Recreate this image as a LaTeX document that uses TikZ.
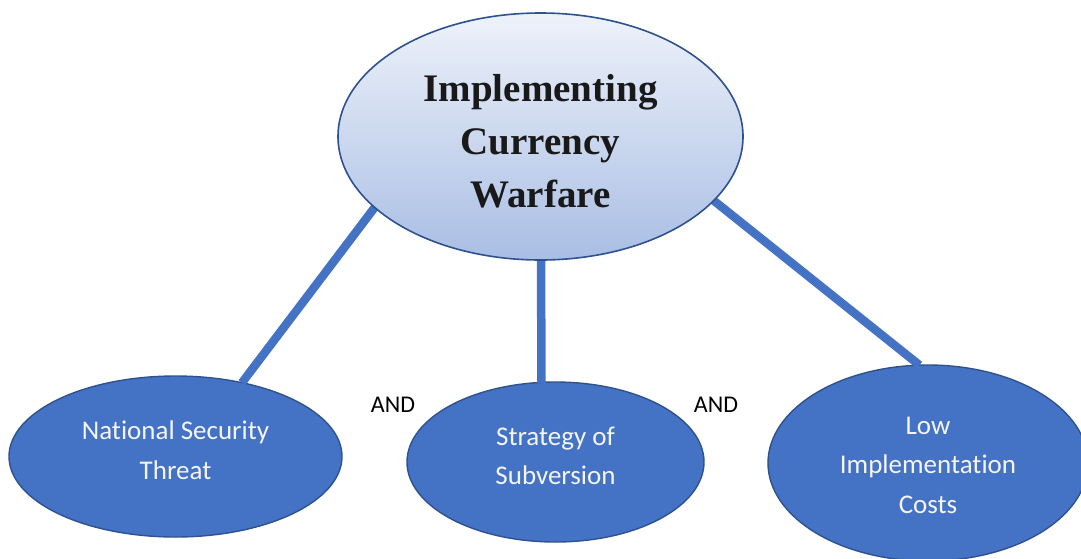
\documentclass[tikz,border=0pt]{standalone}
\usepackage{fontspec}
\setmainfont{Liberation Serif}
\newfontfamily\bodysans[Ligatures=NoCommon]{Carlito}
\usetikzlibrary{shapes.geometric}
\definecolor{accent}{HTML}{4472C4}
\definecolor{accentdark}{HTML}{2F528F}
\definecolor{topfill}{HTML}{EEF2FA}
\definecolor{botfill}{HTML}{A9BEE4}
\tikzset{
  goal/.style={ellipse, draw=accentdark, line width=1.6pt, inner sep=0pt, outer sep=0pt,
    top color=topfill, bottom color=botfill},
  goaltext/.style={align=center, inner sep=0pt,
    font=\fontsize{39}{53}\selectfont\bfseries, text=black!90},
  factor/.style={ellipse, draw=accentdark, line width=1.4pt, inner sep=0pt, outer sep=0pt,
    fill=accent},
  factortext/.style={align=center, inner sep=0pt, text=white!96!black,
    font=\bodysans\fontsize{27}{39.5}\selectfont},
  link/.style={draw=accent, line width=8.5pt},
  joiner/.style={font=\bodysans\fontsize{24}{28}\selectfont, text=black}
}
\begin{document}
\begin{tikzpicture}[x=1pt,y=-1pt]
  \useasboundingbox (0,0) rectangle (1081,558);

  % lower-level factors
  \node[factor, minimum width=333pt, minimum height=161pt] (threat) at (175.5,456.5) {};
  \node[factor, minimum width=297pt, minimum height=160pt] (subversion) at (555.5,462) {};
  \node[factor, minimum width=320pt, minimum height=196pt] (costs) at (928,463) {};
  \node[factortext] (threat-text) at (175.5,450) {National Security\\Threat};
  \node[factortext] (subversion-text) at (555.5,456) {Strategy of\\Subversion};
  \node[factortext] (costs-text) at (928,465) {Low\\Implementation\\Costs};

  % connectors from the goal to each factor
  \coordinate (goal-left) at (375,207);
  \coordinate (goal-mid) at (541,259);
  \coordinate (goal-right) at (713,200);
  \draw[link] (goal-left) -- (threat.48);
  \draw[link] (goal-mid) -- (541.5,383);
  \draw[link] (goal-right) -- (costs.95);

  % top goal
  \node[goal, minimum width=405pt, minimum height=247pt] (goal) at (540.5,136.5) {};
  \node[goaltext] (goal-text) at (540.5,141.5) {Implementing\\Currency\\Warfare};

  % conjunctions between the factors
  \node[joiner] (and1) at (393,405) {AND};
  \node[joiner] (and2) at (716,405) {AND};
\end{tikzpicture}
\end{document}
